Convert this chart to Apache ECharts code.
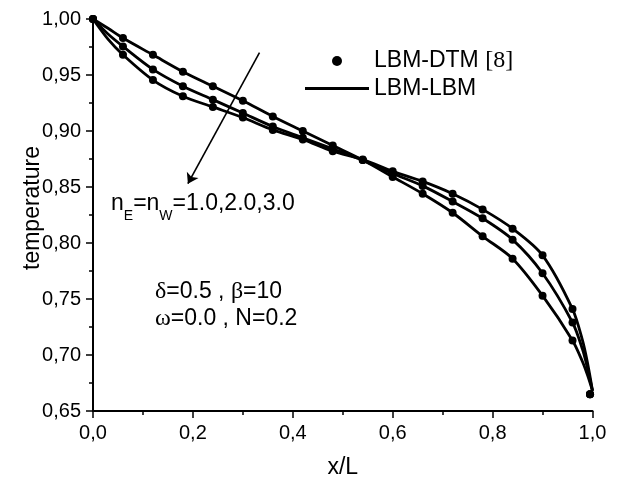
<!DOCTYPE html>
<html><head><meta charset="utf-8">
<script src="https://cdn.jsdelivr.net/npm/echarts@6/dist/echarts.min.js"></script>
<style>html,body{margin:0;padding:0;background:#fff}#c{width:620px;height:485px}</style>
</head><body><div id="c"></div>
<script>
// LBM-DTM [8] reference points (markers)
const dtmX  = [0, 0.06, 0.12, 0.18, 0.24, 0.30, 0.36, 0.42, 0.48, 0.54, 0.60, 0.66, 0.72, 0.78, 0.84, 0.90, 0.96, 0.995];
const dtmN1 = [1.000, 0.983, 0.968, 0.953, 0.940, 0.927, 0.913, 0.900, 0.887, 0.874, 0.859, 0.844, 0.827, 0.806, 0.786, 0.753, 0.713, 0.665];
const dtmN2 = [1.000, 0.9755, 0.955, 0.940, 0.928, 0.916, 0.904, 0.894, 0.884, 0.874, 0.862, 0.851, 0.837, 0.822, 0.803, 0.773, 0.729, 0.665];
const dtmN3 = [1.000, 0.968, 0.9455, 0.931, 0.9215, 0.912, 0.901, 0.8925, 0.882, 0.8745, 0.864, 0.855, 0.844, 0.830, 0.8128, 0.789, 0.741, 0.665];
// LBM-LBM curves (lines)
const lbmX  = [0, 0.03, 0.06, 0.12, 0.18, 0.24, 0.30, 0.36, 0.42, 0.48, 0.54, 0.60, 0.66, 0.72, 0.78, 0.84, 0.90, 0.96, 0.98, 0.99, 1.0];
const lbmN1 = [1.000, 0.9917, 0.983, 0.968, 0.953, 0.940, 0.927, 0.913, 0.900, 0.887, 0.874, 0.859, 0.844, 0.827, 0.806, 0.786, 0.753, 0.713, 0.694, 0.682, 0.668];
const lbmN2 = [1.000, 0.9866, 0.9755, 0.955, 0.940, 0.928, 0.916, 0.904, 0.894, 0.884, 0.874, 0.862, 0.851, 0.837, 0.822, 0.803, 0.773, 0.729, 0.705, 0.688, 0.668];
const lbmN3 = [1.000, 0.982, 0.968, 0.9455, 0.931, 0.9215, 0.912, 0.901, 0.8925, 0.882, 0.8745, 0.864, 0.855, 0.844, 0.830, 0.8128, 0.789, 0.741, 0.713, 0.693, 0.668];
// tick settings
const xTicks = {min: 0, max: 1, interval: 0.2};
const yTicks = {min: 0.65, max: 1.0, interval: 0.05};
// annotation arrow (data coords): from -> to
const arrowFrom = [0.3333, 0.9699];
const arrowTo   = [0.19, 0.853];

const pair = (xs, ys) => xs.map((x, i) => [x, ys[i]]);
const FONT = 'Liberation Sans';

const lineSeries = [lbmN1, lbmN2, lbmN3].map((ys, k) => ({
  type: 'line', name: 'LBM-LBM', data: pair(lbmX, ys), smooth: 0.3,
  symbol: 'none', showSymbol: false, color: '#000', lineStyle: {color: '#000', width: 2.8},
  z: 2,
  markLine: k === 0 ? {
    silent: true, symbol: ['none', 'arrow'], symbolSize: 10,
    label: {show: false},
    lineStyle: {color: '#000', width: 1.6, type: 'solid'},
    data: [[{coord: arrowFrom}, {coord: arrowTo}]]
  } : undefined
}));
const scatterSeries = [dtmN1, dtmN2, dtmN3].map(ys => ({
  type: 'scatter', name: 'LBM-DTM [8]', data: pair(dtmX, ys),
  symbol: 'circle', symbolSize: 8, color: '#000', itemStyle: {color: '#000', opacity: 1}, z: 3
}));

const chart = echarts.init(document.getElementById('c'), null, {renderer: 'canvas'});
chart.setOption({
  animation: false,
  backgroundColor: '#fff',
  grid: {left: 93, right: 27.5, top: 19, bottom: 74},
  xAxis: {
    type: 'value', min: xTicks.min, max: xTicks.max, interval: xTicks.interval,
    name: 'x/L', nameLocation: 'middle', nameGap: 45,
    nameTextStyle: {fontFamily: FONT, fontSize: 23, color: '#000'},
    axisLine: {onZero: false, lineStyle: {color: '#000', width: 2}},
    axisTick: {show: true, inside: false, length: 7, lineStyle: {color: '#000', width: 1.5}},
    minorTick: {show: true, splitNumber: 2, length: 4, lineStyle: {color: '#000', width: 1.5}},
    splitLine: {show: false},
    axisLabel: {fontFamily: FONT, fontSize: 20, color: '#000', margin: 12,
      formatter: v => v.toFixed(1).replace('.', ',')}
  },
  yAxis: {
    type: 'value', min: yTicks.min, max: yTicks.max, interval: yTicks.interval,
    name: 'temperature', nameLocation: 'middle', nameGap: 49, nameMoveOverlap: false,
    nameTextStyle: {fontFamily: FONT, fontSize: 23, color: '#000', padding: [0, 0, 0, 14]},
    axisLine: {show: true, onZero: false, lineStyle: {color: '#000', width: 2}},
    axisTick: {show: true, inside: false, length: 7, lineStyle: {color: '#000', width: 1.5}},
    minorTick: {show: true, splitNumber: 2, length: 4, lineStyle: {color: '#000', width: 1.5}},
    splitLine: {show: false},
    axisLabel: {fontFamily: FONT, fontSize: 20, color: '#000', margin: 12,
      formatter: v => v.toFixed(2).replace('.', ',')}
  },
  legend: {
    orient: 'vertical', left: 300, top: 44, itemWidth: 64, itemHeight: 10, itemGap: 4,
    selectedMode: false,
    data: [
      {name: 'LBM-DTM [8]', icon: 'circle'},
      {name: 'LBM-LBM', icon: 'path://M0,0L64,0L64,3L0,3Z'}
    ],
    itemStyle: {color: '#000', opacity: 1},
    formatter: n => n === 'LBM-DTM [8]' ? '{a|LBM-DTM }{s|[8]}' : '{a|LBM-LBM}',
    textStyle: {color: '#000', fontFamily: FONT, fontSize: 23,
      rich: {a: {fontFamily: FONT, fontSize: 23, color: '#000', lineHeight: 26},
             s: {fontFamily: 'Liberation Serif', fontSize: 24, color: '#000', lineHeight: 26}}}
  },
  graphic: [
    {type: 'text', left: 111, top: 192, z: 10, style: {
      text: '{m|n}{u|E}{m|=n}{u|W}{m|=1.0,2.0,3.0}',
      rich: {
        m: {fontFamily: FONT, fontSize: 23, fill: '#000', lineHeight: 26, verticalAlign: 'top'},
        u: {fontFamily: FONT, fontSize: 14, fill: '#000', lineHeight: 31, verticalAlign: 'bottom'}
      }}},
    {type: 'text', left: 155, top: 280, z: 10, style: {
      text: '{g|δ}{m|=0.5 , }{g|β}{m|=10}\n{g|ω}{m|=0.0 , N=0.2}',
      rich: {
        m: {fontFamily: FONT, fontSize: 23, fill: '#000', lineHeight: 27},
        g: {fontFamily: 'Liberation Serif', fontSize: 24, fill: '#000', lineHeight: 27}
      }}}
  ],
  series: [...lineSeries, ...scatterSeries]
});
</script></body></html>
